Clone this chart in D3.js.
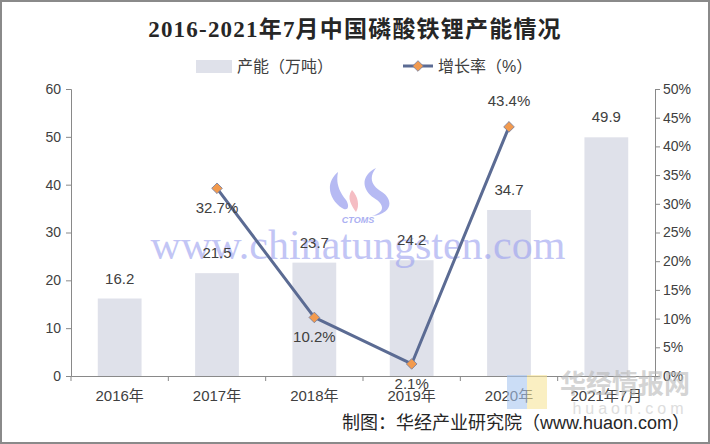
<!DOCTYPE html>
<html><head><meta charset="utf-8">
<script src="https://cdn.jsdelivr.net/npm/d3@7"></script>
<style>body{margin:0;background:#fff}svg{display:block}</style>
</head><body>
<svg id="c" width="710" height="444"></svg>
<script>
const categories = ["2016年","2017年","2018年","2019年","2020年","2021年7月"];
const capacity = [16.2, 21.5, 23.7, 24.2, 34.7, 49.9];
const growthYears = ["2017年","2018年","2019年","2020年"];
const growth = [32.7, 10.2, 2.1, 43.4];
const growthLabelPos = ["below","below","below","above"];
const leftTicks = [0,10,20,30,40,50,60];
const rightTicks = [0,5,10,15,20,25,30,35,40,45,50];
const title = "2016-2021年7月中国磷酸铁锂产能情况";
const legendNames = ["产能（万吨）","增长率（%）"];
const source = "制图：华经产业研究院（www.huaon.com）";

const svg = d3.select("#c");
const L = 71, R = 655, T = 89, B = 376;
const font = "'Liberation Sans', Arial, 'Noto Sans CJK SC', sans-serif";
const axisColor = "#898989", textColor = "#404040";
const barColor = "#DFE1EA", lineColor = "#5B6B93", markColor = "#F29A4E";

svg.append("rect").attr("x",1).attr("y",1).attr("width",708).attr("height",442)
  .attr("fill","#fff").attr("stroke","#8a8a8a").attr("stroke-width",2);

const x = d3.scaleBand().domain(categories).range([L,R]).paddingInner(0.55).paddingOuter(0.275);
const xb = d3.scaleBand().domain(categories).range([L,R]);
const y = d3.scaleLinear().domain([0,60]).range([B,T]);
const y2 = d3.scaleLinear().domain([0,50]).range([B,T]);

// bars
svg.append("g").selectAll("rect").data(categories).join("rect")
  .attr("x",d=>x(d)).attr("width",x.bandwidth())
  .attr("y",(d,i)=>y(capacity[i])).attr("height",(d,i)=>B-y(capacity[i]))
  .attr("fill",barColor);

// watermark (CTOMS logo + site)
const wm = svg.append("g").attr("opacity",0.75);
wm.append("path").attr("d","M338,172 C324,184 330,200 342,208 C348,212 350,206 346,200 C338,190 336,182 338,172 Z").attr("fill","#9ea4ef");
wm.append("path").attr("d","M352,190 C346,198 352,206 356,212 C360,206 358,196 352,190 Z").attr("fill","#f2a7b0");
wm.append("path").attr("d","M376,168 C360,176 362,190 374,198 C384,204 386,212 372,216 C392,214 394,200 382,192 C372,186 368,178 376,168 Z").attr("fill","#9ea4ef");
wm.append("text").attr("x",358).attr("y",223).attr("text-anchor","middle")
  .attr("font-family",font).attr("font-style","italic").attr("font-weight","bold").attr("font-size",9)
  .attr("fill","#8f96ee").text("CTOMS");
svg.append("text").attr("x",358).attr("y",259).attr("text-anchor","middle")
  .attr("font-family","'Liberation Serif','DejaVu Serif',serif").attr("font-size",42)
  .attr("fill","#9aa0f0").attr("opacity",0.6).text("www.chinatungsten.com");

svg.append("g").selectAll("text").data(categories).join("text")
  .attr("x",d=>x(d)+x.bandwidth()/2).attr("y",(d,i)=>y(capacity[i])-15)
  .attr("text-anchor","middle").attr("font-family",font).attr("font-size",15)
  .attr("fill",textColor).text((d,i)=>capacity[i].toFixed(1));

// axes
const gl = svg.append("g").attr("transform",`translate(${L},0)`)
  .call(d3.axisLeft(y).tickValues(leftTicks).tickSize(5).tickPadding(5));
const gr = svg.append("g").attr("transform",`translate(${R},0)`)
  .call(d3.axisRight(y2).tickValues(rightTicks).tickSize(5).tickPadding(3).tickFormat(d=>d+"%"));
const gx = svg.append("g").attr("transform",`translate(0,${B})`)
  .call(d3.axisBottom(xb).tickSize(0).tickPadding(14));
svg.append("g").selectAll("line").data(categories.concat(["_end"])).join("line")
  .attr("x1",(d,i)=>L+i*xb.bandwidth()).attr("x2",(d,i)=>L+i*xb.bandwidth())
  .attr("y1",B).attr("y2",B+5).attr("stroke",axisColor);
[gl,gr,gx].forEach(g=>{
  g.select(".domain").attr("stroke",axisColor);
  g.selectAll(".tick line").attr("stroke",axisColor);
  g.selectAll("text").attr("font-family",font).attr("font-size",14).attr("fill",textColor);
});
gx.selectAll("text").attr("font-size",15);

// line
const cx = d => xb(d)+xb.bandwidth()/2;
const line = d3.line().x((d,i)=>cx(growthYears[i])).y(d=>y2(d));
svg.append("path").datum(growth).attr("d",line).attr("fill","none")
  .attr("stroke",lineColor).attr("stroke-width",3).attr("stroke-linejoin","round");
svg.append("g").selectAll("path").data(growth).join("path")
  .attr("transform",(d,i)=>`translate(${cx(growthYears[i])},${y2(d)})`)
  .attr("d",d3.symbol(d3.symbolDiamond2,72)())
  .attr("fill",markColor).attr("stroke","#6f7ba0").attr("stroke-width",0.8);
svg.append("g").selectAll("text").data(growth).join("text")
  .attr("x",(d,i)=>cx(growthYears[i]))
  .attr("y",(d,i)=>growthLabelPos[i]==="above" ? y2(d)-21 : y2(d)+25)
  .attr("text-anchor","middle").attr("font-family",font).attr("font-size",15)
  .attr("fill",textColor).text(d=>d.toFixed(1)+"%");

// title
svg.append("text").attr("x",355).attr("y",37).attr("text-anchor","middle")
  .attr("font-family","'Liberation Serif','Noto Sans CJK SC',serif").attr("font-weight","bold")
  .attr("font-size",23).attr("letter-spacing",1.2).attr("fill","#262626").text(title);

// legend
svg.append("rect").attr("x",196).attr("y",60).attr("width",36).attr("height",13).attr("fill",barColor);
svg.append("text").attr("x",237).attr("y",72).attr("font-family",font).attr("font-size",16)
  .attr("fill",textColor).text(legendNames[0]);
svg.append("line").attr("x1",403).attr("x2",433).attr("y1",66).attr("y2",66)
  .attr("stroke",lineColor).attr("stroke-width",3);
svg.append("path").attr("transform","translate(418,66)").attr("d",d3.symbol(d3.symbolDiamond2,72)())
  .attr("fill",markColor).attr("stroke","#6f7ba0").attr("stroke-width",0.8);
svg.append("text").attr("x",438).attr("y",72).attr("font-family",font).attr("font-size",16)
  .attr("fill",textColor).text(legendNames[1]);

// huaon watermark
svg.append("rect").attr("x",507).attr("y",375).attr("width",20).attr("height",34).attr("fill","#a9c7f0").attr("opacity",0.6);
svg.append("rect").attr("x",527).attr("y",375).attr("width",20).attr("height",34).attr("fill","#f6e49a").attr("opacity",0.6);
svg.append("text").attr("x",625).attr("y",393).attr("text-anchor","middle").attr("font-family",font)
  .attr("font-weight","bold").attr("font-size",26).attr("fill","#b8b8b8").attr("opacity",0.6).text("华经情报网");
svg.append("text").attr("x",630).attr("y",414).attr("text-anchor","middle").attr("font-family",font)
  .attr("font-size",16).attr("letter-spacing",4).attr("fill","#c8c8c8").attr("opacity",0.6).text("huaon.com");

// source
svg.append("text").attr("x",690).attr("y",429).attr("text-anchor","end").attr("font-family",font)
  .attr("font-size",18).attr("fill","#262626").text(source);
</script>
</body></html>
